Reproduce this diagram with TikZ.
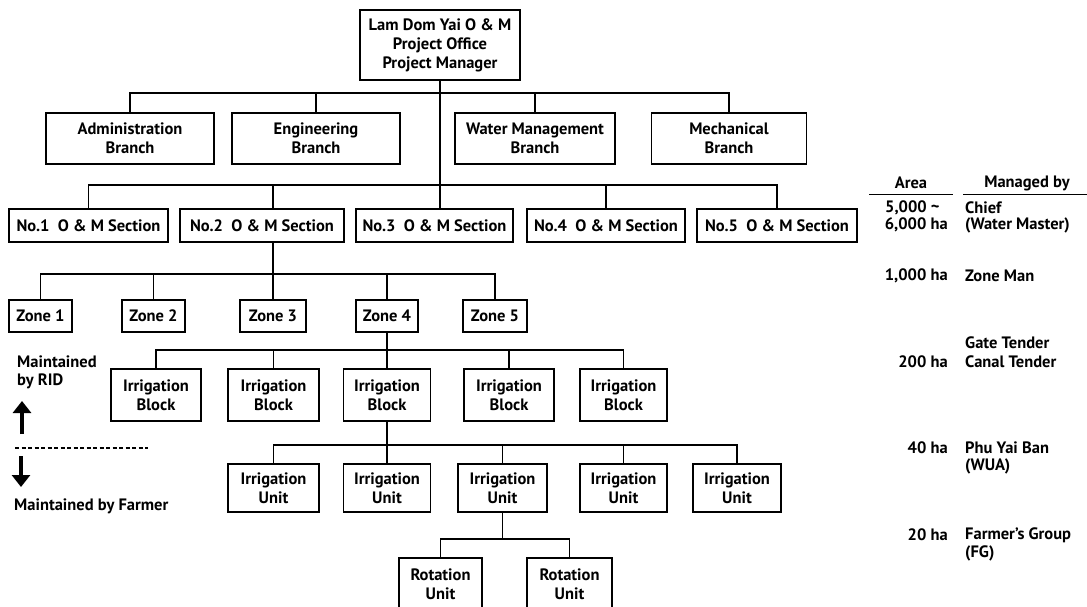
\documentclass[tikz,border=0pt]{standalone}
\usepackage{fontspec}
\setmainfont{PT Sans}
\usetikzlibrary{arrows.meta}
\begin{document}
\begin{tikzpicture}[x=1pt,y=-1pt,
  box/.style={draw,line width=1.2pt,inner sep=0pt,align=center,font=\fontsize{16.5}{19}\selectfont\bfseries},
  conn/.style={line width=1.4pt},
  lbl/.style={inner sep=0pt,font=\fontsize{16.5}{18}\selectfont\bfseries},
  bigarrow/.style={line width=3.5pt,-{Triangle[width=18pt,length=12pt]}},
  rule/.style={line width=1pt}]
\useasboundingbox (0,0) rectangle (1087,607);
% top
\node[box,minimum width=160pt,minimum height=70pt] (top) at (440,45) {Lam Dom Yai O \& M\\Project Office\\Project Manager};
% branches
\node[box,minimum width=168pt,minimum height=51pt] (admin) at (130,138.5) {Administration\\Branch};
\node[box,minimum width=168pt,minimum height=51pt] (eng) at (316,138.5) {Engineering\\Branch};
\node[box,minimum width=160pt,minimum height=51pt] (water) at (535,138.5) {Water Management\\Branch};
\node[box,minimum width=155pt,minimum height=51pt] (mech) at (729,138.5) {Mechanical\\Branch};
\coordinate (hb) at (0,93);
\draw[conn] (admin.north) -- (admin.north |- hb) -- (mech.north |- hb) -- (mech.north);
\draw[conn] (eng.north) -- (eng.north |- hb);
\draw[conn] (water.north) -- (water.north |- hb);
% sections
\node[box,minimum width=159pt,minimum height=33pt] (sec1) at (88.5,225.5) {No.1\ \ O \& M Section};
\node[box,minimum width=164pt,minimum height=33pt] (sec2) at (262,225.5) {No.2\ \ O \& M Section};
\node[box,minimum width=157pt,minimum height=33pt] (sec3) at (434.5,225.5) {No.3\ \ O \& M Section};
\node[box,minimum width=158pt,minimum height=33pt] (sec4) at (606,225.5) {No.4\ \ O \& M Section};
\node[box,minimum width=160pt,minimum height=33pt] (sec5) at (777,225.5) {No.5\ \ O \& M Section};
\draw[conn] (top.south) -- (top.south |- sec3.north);
\coordinate (hs) at (0,185);
\draw[conn] (sec1.north) -- (sec1.north |- hs) -- (sec5.north |- hs) -- (sec5.north);
\draw[conn] (sec4.north) -- (sec4.north |- hs);
% zones
\node[box,minimum width=63pt,minimum height=32pt] (zone1) at (40.5,316) {Zone 1};
\node[box,minimum width=63pt,minimum height=32pt] (zone2) at (153.5,316) {Zone 2};
\node[box,minimum width=66pt,minimum height=32pt] (zone3) at (273,316) {Zone 3};
\node[box,minimum width=62pt,minimum height=32pt] (zone4) at (387,316) {Zone 4};
\node[box,minimum width=64pt,minimum height=32pt] (zone5) at (495,316) {Zone 5};
\draw[conn] (zone3.north |- hs) -- (zone3.north |- sec2.north);
\draw[conn] (zone3.north |- sec2.south) -- (zone3.north);
\coordinate (hz) at (0,274);
\draw[conn] (zone1.north) -- (zone1.north |- hz) -- (zone5.north |- hz) -- (zone5.north);
\draw[conn] (zone2.north) -- (zone2.north |- hz);
\draw[conn] (zone4.north) -- (zone4.north |- hz);
% blocks
\node[box,minimum width=90pt,minimum height=52pt] (blk1) at (156,395) {Irrigation\\Block};
\node[box,minimum width=91pt,minimum height=52pt] (blk2) at (273.5,395) {Irrigation\\Block};
\node[box,minimum width=87pt,minimum height=52pt] (blk3) at (387,395) {Irrigation\\Block};
\node[box,minimum width=90pt,minimum height=52pt] (blk4) at (509,395) {Irrigation\\Block};
\node[box,minimum width=87pt,minimum height=52pt] (blk5) at (623.5,395) {Irrigation\\Block};
\draw[conn] (zone4.south) -- (blk3.north);
\coordinate (hk) at (0,350);
\draw[conn] (blk1.north) -- (blk1.north |- hk) -- (blk5.north |- hk) -- (blk5.north);
\draw[conn] (blk2.north) -- (blk2.north |- hk);
\draw[conn] (blk4.north) -- (blk4.north |- hk);
% units
\node[box,minimum width=91pt,minimum height=48pt] (unit1) at (273.5,488) {Irrigation\\Unit};
\node[box,minimum width=87pt,minimum height=48pt] (unit2) at (387,488) {Irrigation\\Unit};
\node[box,minimum width=89pt,minimum height=48pt] (unit3) at (502.5,488) {Irrigation\\Unit};
\node[box,minimum width=87pt,minimum height=48pt] (unit4) at (623.5,488) {Irrigation\\Unit};
\node[box,minimum width=88pt,minimum height=48pt] (unit5) at (737,488) {Irrigation\\Unit};
\draw[conn] (blk3.south) -- (unit2.north);
\coordinate (hu) at (0,445);
\draw[conn] (unit1.north) -- (unit1.north |- hu) -- (unit5.north |- hu) -- (unit5.north);
\draw[conn] (unit3.north) -- (unit3.north |- hu);
\draw[conn] (unit4.north) -- (unit4.north |- hu);
% rotation
\node[box,minimum width=83pt,minimum height=52pt] (rot1) at (440.5,584) {Rotation\\Unit};
\node[box,minimum width=85pt,minimum height=52pt] (rot2) at (569.5,584) {Rotation\\Unit};
\coordinate (hr) at (0,539);
\draw[conn] (unit3.south) -- (unit3.south |- hr);
\draw[conn] (rot1.north) -- (rot1.north |- hr) -- (rot2.north |- hr) -- (rot2.north);
% legend left
\node[lbl,anchor=west,align=left] (rid) at (17,372) {Maintained\\by RID};
\coordinate (upb) at (22,434);
\coordinate (upt) at (22,401);
\draw[bigarrow] (upb) -- (upt);
\coordinate (dl) at (15,448);
\coordinate (dr) at (148,448);
\draw[line width=1.3pt,dash pattern=on 4pt off 2.5pt] (dl) -- (dr);
\coordinate (dnt) at (21,456);
\coordinate (dnb) at (21,487);
\draw[bigarrow] (dnt) -- (dnb);
\node[lbl,anchor=west] (farmer) at (14,506) {Maintained by Farmer};
% right columns
\node[lbl] (area) at (911,183) {Area};
\node[lbl] (mgd) at (1027,183) {Managed by};
\coordinate (a1) at (869,194); \coordinate (a2) at (953,194);
\coordinate (m1) at (963,194); \coordinate (m2) at (1087,194);
\draw[rule] (a1) -- (a2);
\draw[rule] (m1) -- (m2);
\node[lbl,anchor=west] (ar1a) at (885,208) {5,000 \textasciitilde};
\node[lbl,anchor=east] (ar1b) at (948,225) {6,000 ha};
\node[lbl,anchor=west] (mg1a) at (965,208) {Chief};
\node[lbl,anchor=west] (mg1b) at (965,225) {(Water Master)};
\node[lbl,anchor=east] (ar2) at (948,276) {1,000 ha};
\node[lbl,anchor=west] (mg2) at (965,276) {Zone Man};
\node[lbl,anchor=west] (mg3a) at (965,343) {Gate Tender};
\node[lbl,anchor=east] (ar3) at (948,362) {200 ha};
\node[lbl,anchor=west] (mg3b) at (965,362) {Canal Tender};
\node[lbl,anchor=east] (ar4) at (948,448) {40 ha};
\node[lbl,anchor=west] (mg4a) at (965,448) {Phu Yai Ban};
\node[lbl,anchor=west] (mg4b) at (965,466) {(WUA)};
\node[lbl,anchor=east] (ar5) at (948,535) {20 ha};
\node[lbl,anchor=west] (mg5a) at (965,535) {Farmer's Group};
\node[lbl,anchor=west] (mg5b) at (965,553) {(FG)};
\end{tikzpicture}
\end{document}
